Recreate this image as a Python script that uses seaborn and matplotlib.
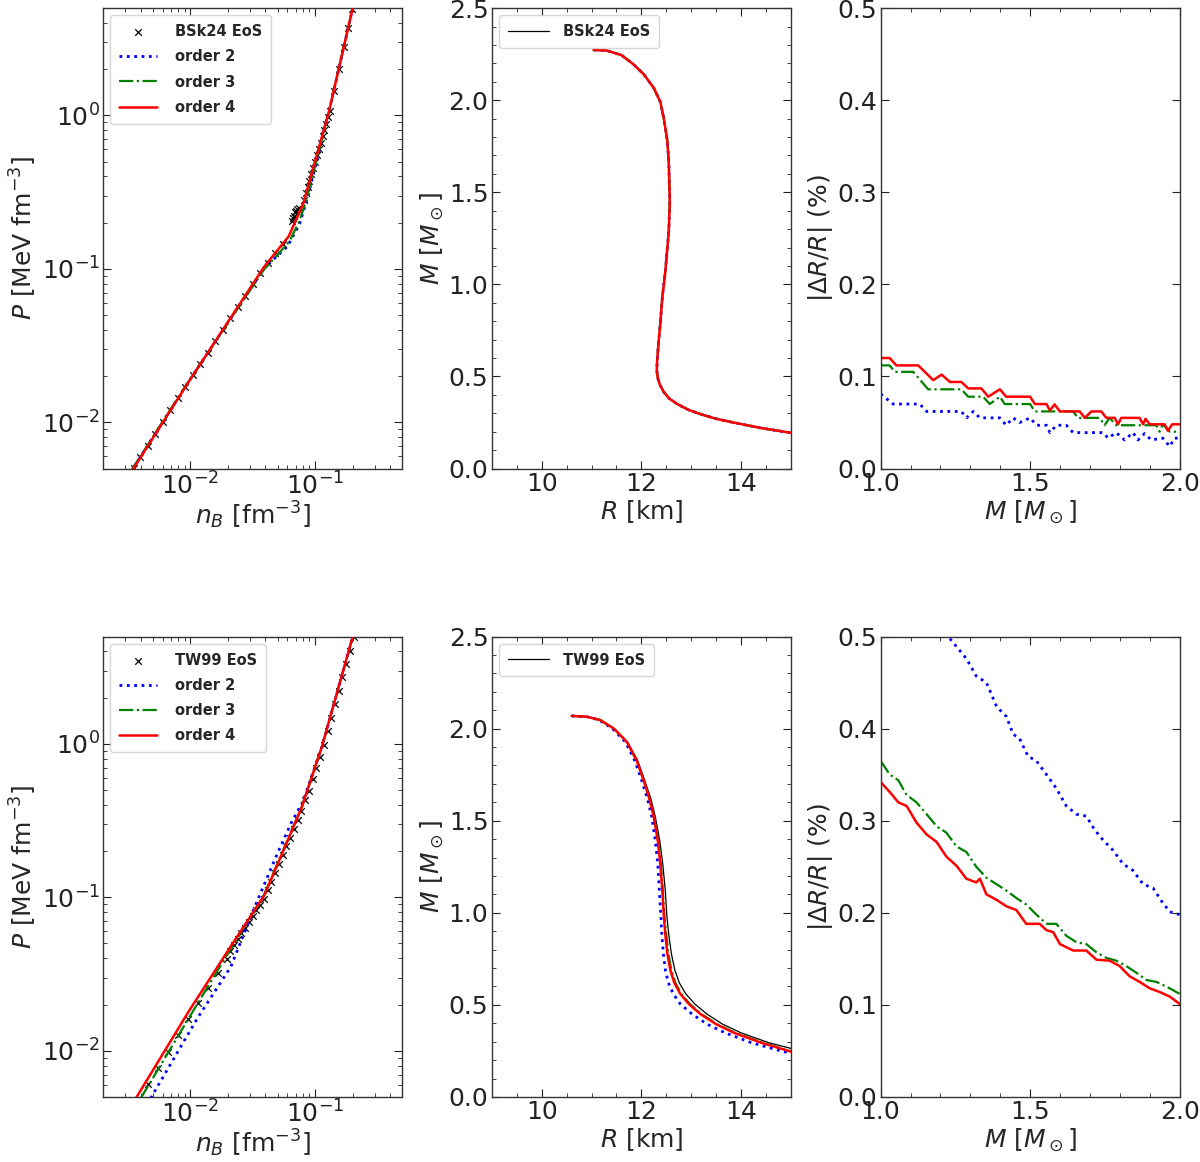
import matplotlib
matplotlib.use("Agg")
import matplotlib.pyplot as plt
from matplotlib.ticker import MultipleLocator
import seaborn as sns

# ---- EoS tables, P(n_B) ----
bsk_n = [0.00350, 0.00398, 0.00457, 0.00525, 0.00603, 0.00692, 0.00794, 0.00912,
         0.0105, 0.0120, 0.0138, 0.0158, 0.0182, 0.0209, 0.0240, 0.0275, 0.0316,
         0.0363, 0.0417, 0.0479, 0.0550, 0.0650, 0.0660, 0.0675, 0.0687, 0.0700, 0.0714, 0.0741,
         0.0813, 0.0841, 0.0871, 0.0902, 0.0933, 0.0966, 0.100, 0.1035, 0.1072,
         0.1109, 0.1148, 0.1189, 0.1230, 0.1274, 0.1318, 0.1413, 0.1549, 0.1698,
         0.1841, 0.1995]
bsk_P = [0.00501, 0.00592, 0.00705, 0.00841, 0.01005, 0.0120, 0.01432, 0.01706,
         0.0203, 0.0240, 0.0285, 0.0339, 0.0402, 0.0476, 0.0565, 0.0670, 0.0796,
         0.0944, 0.110, 0.127, 0.146, 0.206, 0.214, 0.222, 0.233, 0.238, 0.244, 0.251,
         0.282, 0.310, 0.341, 0.375, 0.412, 0.454, 0.499, 0.548, 0.603,
         0.664, 0.730, 0.802, 0.881, 0.970, 1.067, 1.449, 2.01, 2.79,
         3.72, 4.95]

tw_n = [0.00457, 0.00550, 0.00661, 0.00794, 0.00955, 0.01148, 0.01380, 0.01660, 0.01950,
        0.02089, 0.02239, 0.02399, 0.02570, 0.02754, 0.02951, 0.03162, 0.03388, 0.03631,
        0.03890, 0.04169, 0.04467, 0.04786, 0.05129, 0.05495, 0.05888, 0.06310, 0.06761,
        0.07244, 0.07762, 0.08318, 0.08913, 0.09550, 0.1023, 0.1096, 0.1175, 0.1259,
        0.1349, 0.1445, 0.1549, 0.1660, 0.1778, 0.1905, 0.2042]
tw_P = [0.00604, 0.00771, 0.00987, 0.01259, 0.01607, 0.02032, 0.02558, 0.03221, 0.03944,
        0.04498, 0.04909, 0.05346, 0.05821, 0.06353, 0.06918, 0.07534, 0.08204, 0.08933,
        0.09750, 0.1109, 0.1265, 0.1442, 0.1644, 0.1879, 0.2143, 0.2443, 0.2793,
        0.3184, 0.3631, 0.4276, 0.4943, 0.5861, 0.6934, 0.8222, 0.9886, 1.211,
        1.479, 1.811, 2.213, 2.710, 3.319, 4.055, 4.966]

# ---- polynomial fits of P(n_B) ----
bsk_o2_n = [0.0033, 0.0095, 0.039, 0.060, 0.075, 0.087, 0.13, 0.21]
bsk_o2_P = [0.0047, 0.018, 0.101, 0.140, 0.195, 0.29, 1.08, 5.9]
bsk_o3_n = [0.0033, 0.0095, 0.039, 0.062, 0.075, 0.085, 0.13, 0.21]
bsk_o3_P = [0.00475, 0.0181, 0.099, 0.150, 0.205, 0.28, 1.08, 5.9]
bsk_o4_n = [0.0033, 0.0095, 0.039, 0.0615, 0.081, 0.13, 0.21]
bsk_o4_P = [0.00464, 0.0179, 0.103, 0.163, 0.27, 1.08, 5.9]

tw_o2_n = [0.0048, 0.0114, 0.0211, 0.0325, 0.0509, 0.065, 0.08, 0.114, 0.21]
tw_o2_P = [0.0049, 0.0163, 0.0352, 0.085, 0.20, 0.31, 0.42, 0.97, 5.7]
tw_o3_n = [0.0040, 0.0098, 0.020, 0.039, 0.078, 0.114, 0.21]
tw_o3_P = [0.0049, 0.0165, 0.043, 0.104, 0.386, 0.97, 5.7]
tw_o4_n = [0.0036, 0.00964, 0.0211, 0.0392, 0.0783, 0.114, 0.21]
tw_o4_P = [0.0048, 0.0179, 0.0479, 0.103, 0.386, 0.97, 5.7]

# ---- mass-radius curves ----
bsk_R = [11.04, 11.3, 11.6, 11.84, 12.05, 12.25, 12.38, 12.45, 12.52, 12.55,
         12.57, 12.55, 12.48, 12.42, 12.38, 12.34, 12.315, 12.31, 12.33, 12.37,
         12.45, 12.56, 12.72, 12.95, 13.19, 13.5, 13.86, 14.4, 15.0, 15.3]
bsk_M = [2.273, 2.27, 2.245, 2.195, 2.14, 2.066, 1.99, 1.90, 1.78, 1.66,
         1.45, 1.29, 1.07, 0.93, 0.79, 0.67, 0.58, 0.53, 0.49, 0.455,
         0.415, 0.38, 0.35, 0.318, 0.295, 0.27, 0.249, 0.22, 0.194, 0.185]

tw_M = [2.069, 2.065, 2.047, 2.0, 1.927, 1.83, 1.724, 1.62, 1.52, 1.39, 1.262, 1.12, 0.985,
        0.88, 0.78, 0.69, 0.62, 0.56, 0.505, 0.449, 0.395, 0.348, 0.295, 0.246, 0.23]
tw_eos_R = [10.60, 10.9, 11.17, 11.45, 11.72, 11.92, 12.06, 12.19, 12.28, 12.37, 12.43, 12.48, 12.51,
            12.55, 12.60, 12.67, 12.76, 12.89, 13.07, 13.32, 13.63, 14.0, 14.55, 15.25, 15.5]
tw_o2_R = [10.60, 10.9, 11.15, 11.42, 11.68, 11.86, 12.0, 12.12, 12.21, 12.28, 12.33, 12.36, 12.39,
           12.41, 12.44, 12.48, 12.54, 12.64, 12.78, 13.02, 13.32, 13.68, 14.2, 14.85, 15.2]
tw_o3_R = [10.60, 10.9, 11.17, 11.45, 11.71, 11.9, 12.04, 12.16, 12.25, 12.34, 12.39, 12.43, 12.46,
           12.50, 12.54, 12.60, 12.68, 12.80, 12.97, 13.21, 13.52, 13.88, 14.42, 15.02, 15.3]
tw_o4_R = [10.60, 10.9, 11.17, 11.45, 11.71, 11.9, 12.04, 12.16, 12.25, 12.33, 12.38, 12.42, 12.45,
           12.48, 12.52, 12.58, 12.66, 12.78, 12.95, 13.19, 13.5, 13.86, 14.4, 15.0, 15.3]

# ---- relative radius error |dR/R| (%) ----
bsk_d2_m = [1.0, 1.042, 1.131, 1.154, 1.27, 1.287, 1.31, 1.332, 1.399, 1.42, 1.443, 1.465, 1.5, 1.521, 1.555,
            1.566, 1.588, 1.621, 1.644, 1.744, 1.761, 1.788, 1.816, 1.844, 1.861, 1.883, 1.905, 1.944, 1.967, 1.983, 2.0]
bsk_d2_v = [0.081, 0.070, 0.070, 0.062, 0.062, 0.055, 0.062, 0.055, 0.055, 0.047, 0.055, 0.050, 0.055, 0.047, 0.047,
            0.039, 0.047, 0.047, 0.039, 0.039, 0.033, 0.039, 0.031, 0.039, 0.031, 0.038, 0.031, 0.033, 0.024, 0.033, 0.033]
bsk_d3_m = [1.0, 1.03, 1.048, 1.109, 1.159, 1.27, 1.293, 1.343, 1.365, 1.399, 1.415, 1.5, 1.516, 1.644, 1.66,
            1.733, 1.749, 1.766, 1.788, 1.922, 1.933, 1.944, 1.967, 2.0]
bsk_d3_v = [0.112, 0.112, 0.105, 0.105, 0.086, 0.086, 0.078, 0.078, 0.070, 0.078, 0.070, 0.070, 0.062, 0.062, 0.055,
            0.055, 0.047, 0.055, 0.047, 0.047, 0.040, 0.048, 0.040, 0.040]
bsk_d4_m = [1.0, 1.03, 1.053, 1.126, 1.176, 1.204, 1.232, 1.27, 1.293, 1.337, 1.36, 1.399, 1.42, 1.5, 1.516,
            1.555, 1.566, 1.582, 1.6, 1.666, 1.683, 1.705, 1.738, 1.755, 1.783, 1.794, 1.805, 1.866, 1.878, 1.886,
            1.9, 1.95, 1.961, 1.975, 2.0]
bsk_d4_v = [0.120, 0.120, 0.112, 0.112, 0.096, 0.102, 0.094, 0.094, 0.087, 0.087, 0.078, 0.086, 0.078, 0.078, 0.070,
            0.070, 0.063, 0.0695, 0.062, 0.062, 0.055, 0.062, 0.062, 0.055, 0.055, 0.048, 0.055, 0.055, 0.048, 0.054,
            0.048, 0.048, 0.041, 0.048, 0.048]

tw_d2_m = [1.20, 1.226, 1.287, 1.32, 1.354, 1.388, 1.421, 1.443, 1.465, 1.493, 1.521, 1.555, 1.588, 1.621, 1.655,
           1.688, 1.716, 1.744, 1.777, 1.811, 1.844, 1.878, 1.911, 1.939, 1.967, 2.0]
tw_d2_v = [0.51, 0.50, 0.476, 0.457, 0.450, 0.424, 0.413, 0.394, 0.389, 0.370, 0.365, 0.350, 0.335, 0.316, 0.307,
           0.305, 0.290, 0.279, 0.268, 0.253, 0.246, 0.231, 0.227, 0.213, 0.201, 0.198]
tw_d3_m = [1.0, 1.031, 1.059, 1.087, 1.12, 1.154, 1.187, 1.22, 1.254, 1.287, 1.32, 1.354, 1.388, 1.421, 1.454,
           1.487, 1.521, 1.555, 1.588, 1.621, 1.655, 1.688, 1.722, 1.755, 1.788, 1.822, 1.855, 1.889, 1.922, 1.955, 2.0]
tw_d3_v = [0.365, 0.350, 0.344, 0.328, 0.320, 0.307, 0.294, 0.287, 0.272, 0.266, 0.250, 0.238, 0.231, 0.224, 0.216,
           0.209, 0.198, 0.188, 0.188, 0.175, 0.168, 0.166, 0.157, 0.151, 0.148, 0.142, 0.135, 0.127, 0.125, 0.120, 0.112]
tw_d4_m = [1.0, 1.031, 1.059, 1.087, 1.12, 1.154, 1.187, 1.22, 1.254, 1.287, 1.32, 1.332, 1.354, 1.388, 1.421,
           1.454, 1.487, 1.532, 1.555, 1.577, 1.6, 1.644, 1.688, 1.722, 1.766, 1.8, 1.833, 1.866, 1.9, 1.933, 1.967, 2.0]
tw_d4_v = [0.342, 0.331, 0.320, 0.316, 0.298, 0.285, 0.277, 0.261, 0.251, 0.237, 0.233, 0.237, 0.220, 0.214, 0.207,
           0.203, 0.188, 0.188, 0.181, 0.179, 0.166, 0.159, 0.159, 0.149, 0.148, 0.142, 0.131, 0.125, 0.118, 0.114, 0.109, 0.101]

eos_names = ["BSk24 EoS", "TW99 EoS"]
fit_labels = ["order 2", "order 3", "order 4"]
fit_colors = ["blue", "green", "red"]
fit_styles = [":", "-.", "-"]
fit_widths = [2.0, 1.6, 1.8]

sns.set_style("ticks")
plt.rcParams["font.family"] = ["DejaVu Sans"]
plt.rcParams.update({
    "font.size": 18,
    "axes.labelsize": 18,
    "xtick.labelsize": 18,
    "ytick.labelsize": 18,
    "xtick.direction": "in",
    "ytick.direction": "in",
    "xtick.top": True,
    "ytick.right": True,
    "xtick.major.size": 6,
    "ytick.major.size": 6,
    "xtick.minor.size": 3,
    "ytick.minor.size": 3,
    "xtick.major.pad": 2.5,
    "ytick.major.pad": 2.5,
    "axes.labelpad": 1.5,
    "axes.edgecolor": "#333333",
    "axes.linewidth": 1.0,
})

fig, axes = plt.subplots(2, 3, figsize=(12, 11.62), dpi=100)
fig.subplots_adjust(left=0.086, right=0.983, bottom=0.056, top=0.993, wspace=0.3, hspace=0.365)

legend_font = {"weight": "bold", "size": 10.5}


def draw_row(row, name, eos_n, eos_P, fits_nP, eos_R, eos_M, fits_RM, fits_dR):
    ax_p, ax_mr, ax_dr = axes[row]

    # pressure vs density
    sns.scatterplot(x=eos_n, y=eos_P, ax=ax_p, marker="x", color="black", s=22,
                    linewidth=0.9, label=name, zorder=2)
    for (n, P), lab, c, ls, lw in zip(fits_nP, fit_labels, fit_colors, fit_styles, fit_widths):
        sns.lineplot(x=n, y=P, ax=ax_p, color=c, linestyle=ls, linewidth=lw, label=lab,
                     sort=False, estimator=None, zorder=3)
    ax_p.set(xscale="log", yscale="log", xlim=(2e-3, 0.5), ylim=(5e-3, 5))
    ax_p.set_xlabel(r"$n_B$ [fm$^{-3}$]", labelpad=0)
    ax_p.set_ylabel(r"$P$ [MeV fm$^{-3}$]")
    ax_p.legend(loc="upper left", prop=legend_font, handlelength=2.6, borderpad=0.6,
                labelspacing=0.7, handletextpad=1.2, fancybox=True)

    # mass-radius
    sns.lineplot(x=eos_R, y=eos_M, ax=ax_mr, color="black", linewidth=0.9, label=name,
                 sort=False, estimator=None, zorder=2)
    for (R, M), c, ls, lw in zip(fits_RM, fit_colors, fit_styles, fit_widths):
        sns.lineplot(x=R, y=M, ax=ax_mr, color=c, linestyle=ls, linewidth=lw,
                     sort=False, estimator=None, zorder=3)
    ax_mr.set(xlim=(9, 15), ylim=(0, 2.5))
    ax_mr.xaxis.set_major_locator(MultipleLocator(2))
    ax_mr.xaxis.set_minor_locator(MultipleLocator(0.5))
    ax_mr.yaxis.set_major_locator(MultipleLocator(0.5))
    ax_mr.yaxis.set_minor_locator(MultipleLocator(0.1))
    ax_mr.set_xlabel(r"$R$ [km]")
    ax_mr.set_ylabel(r"$M$ [$M_\odot$]")
    ax_mr.legend(loc="upper left", prop=legend_font, handlelength=2.8, borderpad=0.6,
                 handletextpad=1.0, fancybox=True)

    # relative radius difference
    for (m, v), c, ls, lw in zip(fits_dR, fit_colors, fit_styles, fit_widths):
        sns.lineplot(x=m, y=v, ax=ax_dr, color=c, linestyle=ls, linewidth=lw,
                     sort=False, estimator=None)
    ax_dr.set(xlim=(1.0, 2.0), ylim=(0, 0.5))
    ax_dr.xaxis.set_major_locator(MultipleLocator(0.5))
    ax_dr.xaxis.set_minor_locator(MultipleLocator(0.1))
    ax_dr.yaxis.set_major_locator(MultipleLocator(0.1))
    ax_dr.set_xlabel(r"$M$ [$M_\odot$]")
    ax_dr.set_ylabel(r"$|\Delta R/R|$ (%)")
    if ax_dr.get_legend() is not None:
        ax_dr.get_legend().remove()

    for ax in (ax_p, ax_mr, ax_dr):
        ax.tick_params(which="both", direction="in", top=True, right=True, colors="#222222")


draw_row(0, eos_names[0], bsk_n, bsk_P,
         [(bsk_o2_n, bsk_o2_P), (bsk_o3_n, bsk_o3_P), (bsk_o4_n, bsk_o4_P)],
         bsk_R, bsk_M,
         [(bsk_R, bsk_M), (bsk_R, bsk_M), (bsk_R, bsk_M)],
         [(bsk_d2_m, bsk_d2_v), (bsk_d3_m, bsk_d3_v), (bsk_d4_m, bsk_d4_v)])

draw_row(1, eos_names[1], tw_n, tw_P,
         [(tw_o2_n, tw_o2_P), (tw_o3_n, tw_o3_P), (tw_o4_n, tw_o4_P)],
         tw_eos_R, tw_M,
         [(tw_o2_R, tw_M), (tw_o3_R, tw_M), (tw_o4_R, tw_M)],
         [(tw_d2_m, tw_d2_v), (tw_d3_m, tw_d3_v), (tw_d4_m, tw_d4_v)])

fig.savefig("out.png", dpi=100)
